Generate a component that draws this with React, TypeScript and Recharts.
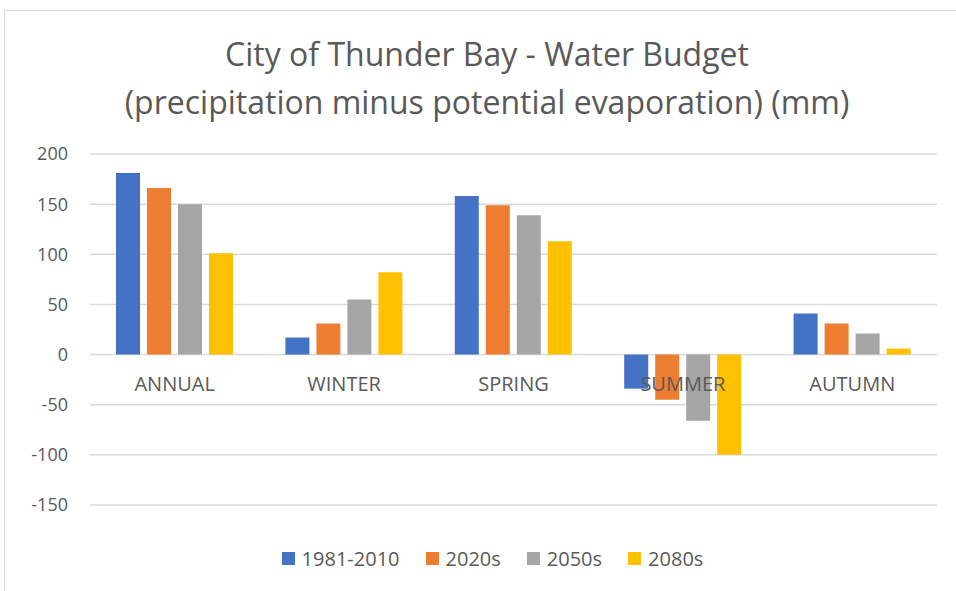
import { BarChart, Bar, XAxis, YAxis, CartesianGrid, Legend } from "recharts";

const seasons = ["ANNUAL", "WINTER", "SPRING", "SUMMER", "AUTUMN"];
const baseline = [181, 17, 158, -34, 41];
const s2020 = [166, 31, 149, -45, 31];
const s2050 = [150, 55, 139, -66, 21];
const s2080 = [101, 82, 113, -100, 6];
const yTicks = [-150, -100, -50, 0, 50, 100, 150, 200];

const series = [
  { key: "base", name: "1981-2010", color: "#4472C4", values: baseline },
  { key: "s2020", name: "2020s", color: "#ED7D31", values: s2020 },
  { key: "s2050", name: "2050s", color: "#A5A5A5", values: s2050 },
  { key: "s2080", name: "2080s", color: "#FFC000", values: s2080 },
];

const data = seasons.map((season, i) => {
  const row: Record<string, string | number> = { season };
  series.forEach((s) => (row[s.key] = s.values[i]));
  return row;
});

const FONT = "'Open Sans', sans-serif";
const TEXT = "#595959";
const PLOT_TOP = 154;
const PLOT_BOTTOM = 505;
const Y_MIN = -150;
const Y_MAX = 200;

// category labels sit just under the zero line, like Excel does
const CategoryTick = (props: any) => {
  const { x, payload } = props;
  const h = PLOT_BOTTOM - PLOT_TOP;
  const zeroY = PLOT_TOP + (h * Y_MAX) / (Y_MAX - Y_MIN);
  return (
    <text x={x} y={zeroY + 36} textAnchor="middle" fill={TEXT} fontSize={20} fontFamily={FONT}>
      {payload.value}
    </text>
  );
};

const LegendContent = () => (
  <div
    style={{
      display: "flex",
      justifyContent: "center",
      paddingLeft: 48,
      fontFamily: FONT,
      fontSize: 20,
      color: TEXT,
    }}
  >
    {series.map((s) => (
      <div key={s.key} style={{ display: "flex", alignItems: "center", margin: "0 13px" }}>
        <span style={{ width: 13, height: 13, background: s.color, marginRight: 7 }} />
        <span>{s.name}</span>
      </div>
    ))}
  </div>
);

export default function App() {
  return (
    <div style={{ position: "fixed", left: 0, top: 0, width: 956, height: 591, background: "#fff", overflow: "hidden" }}>
      <div
        style={{
          position: "absolute",
          left: 4,
          top: 10,
          width: 960,
          height: 600,
          borderLeft: "1px solid #d9d9d9",
          borderTop: "1px solid #d9d9d9",
        }}
      />
      <div
        style={{
          position: "absolute",
          left: 0,
          top: 30,
          width: 974,
          textAlign: "center",
          fontFamily: FONT,
          fontSize: 32,
          lineHeight: "48px",
          color: TEXT,
        }}
      >
        City of Thunder Bay - Water Budget
        <br />
        (precipitation minus potential evaporation) (mm)
      </div>
      <div style={{ position: "absolute", left: 0, top: 0 }}>
        <BarChart
          width={956}
          height={591}
          data={data}
          margin={{ top: PLOT_TOP, right: 19, left: 0, bottom: 20 }}
          barGap={7}
          barCategoryGap="16%"
        >
          <CartesianGrid vertical={false} stroke="#d9d9d9" strokeWidth={1.5} />
          <XAxis
            dataKey="season"
            axisLine={false}
            tickLine={false}
            height={40}
            tick={<CategoryTick />}
            interval={0}
          />
          <YAxis
            domain={[Y_MIN, Y_MAX]}
            ticks={yTicks}
            axisLine={false}
            tickLine={false}
            width={90}
            tickMargin={16}
            tick={{ fill: TEXT, fontSize: 18, fontFamily: FONT }}
          />
          <Legend verticalAlign="bottom" height={26} content={<LegendContent />} />
          {series.map((s) => (
            <Bar key={s.key} dataKey={s.key} name={s.name} fill={s.color} barSize={24} isAnimationActive={false} />
          ))}
        </BarChart>
      </div>
    </div>
  );
}
